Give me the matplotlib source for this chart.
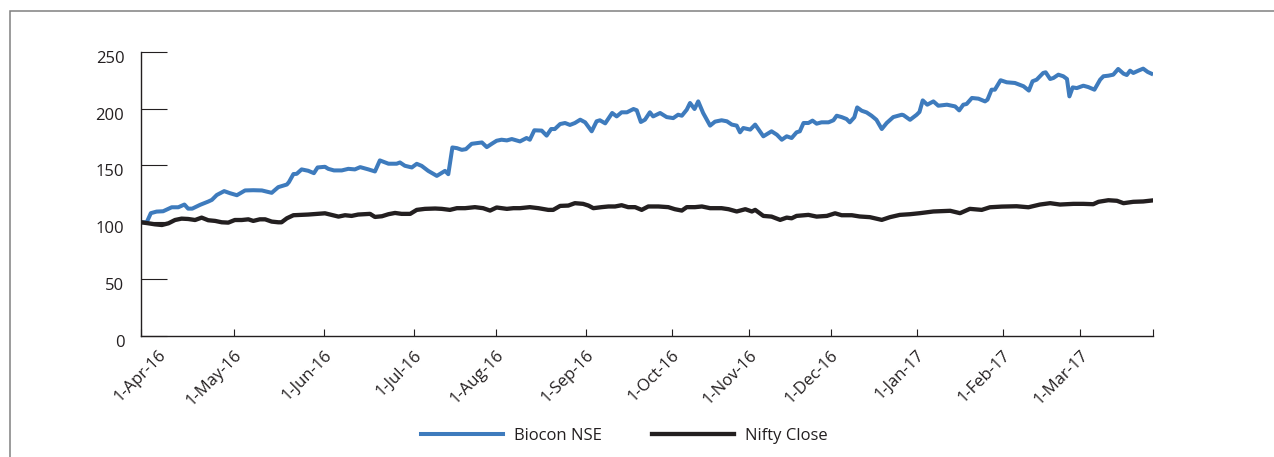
import matplotlib
matplotlib.use('Agg')
import matplotlib.pyplot as plt
from matplotlib.patches import Rectangle
from matplotlib.transforms import ScaledTranslation

# x = trading day index (0 = 1-Apr-16), values rebased to 100
biocon_day = [0, 1.4, 2.4, 3.8, 5.4, 7.5, 9.1, 10.6, 11.5, 12.5, 14.4, 16.4, 17.3, 18.5, 20.3, 21.7,
              23.4, 25.4, 27.4, 29.5, 31.9, 33.5, 35.6, 36.1, 37.2, 38, 39.2, 40.8, 42.2, 43.1, 44.9,
              45.7, 47.1, 49, 50.6, 52.2, 53.5, 55.5, 57.1, 58.3, 60.4, 62.4, 63.2, 64.4, 66.1, 67.3,
              68.5, 70.1, 72.2, 74.2, 75, 76, 77.1, 78.3, 79.3, 80.7, 81.9, 83.2, 84.4, 85.6, 86.8,
              88, 89.3, 90.5, 92.5, 94.1, 94.9, 96, 97.8, 99, 100.1, 101, 102.3, 103.5, 104.7, 105.9,
              107.2, 108.4, 110, 111.2, 112, 113.3, 115, 116.1, 117.3, 118.6, 120.2, 121, 122, 123,
              124.2, 125, 126.7, 128.3, 129.9, 131.1, 132, 133.2, 134, 135.1, 136, 137.2, 138.9,
              140.1, 141.7, 143, 144.2, 145.4, 146.2, 147, 148.7, 149.9, 151.9, 153.9, 155.2, 156.4,
              157.6, 158.8, 160, 160.8, 161.7, 162.9, 163.9, 164.9, 166.1, 167.8, 169, 169.8, 171,
              172.2, 173, 174.1, 174.8, 175.9, 177.1, 178.3, 179.5, 180.8, 182, 183.6, 185.7, 186.1,
              187.7, 189.3, 190, 190.8, 191.9, 193.4, 194.6, 196.7, 198.7, 199.7, 200.7, 201.5,
              202.8, 204.4, 206, 206.6, 207.6, 208.4, 209.8, 211.3, 213.3, 215.4, 216.7, 217.6,
              218.6, 220.2, 220.8, 221.9, 222.7, 223.9, 225.1, 226, 226.6, 227.4, 228.4, 230, 231.2,
              232.7, 234.1, 234.9, 236.1, 237.3, 238.5, 239.8, 240.6, 241.4, 242.2, 243.4, 244.6,
              245.7, 246.6]
biocon = [100, 100, 108, 109.4, 109.7, 113.2, 113.2, 115.6, 112, 112, 115.3, 118.2, 119.7, 124, 127.4,
          125.6, 123.8, 128, 128.2, 128, 125.9, 130.9, 133.2, 135.3, 142.4, 142.6, 146.5, 145.3, 143.2,
          148.2, 148.8, 147, 145.6, 145.6, 147, 146.5, 148.5, 146.5, 144.7, 154.4, 151.5, 151.5,
          152.6, 149.7, 148.2, 151.4, 149.6, 145.2, 140.8, 145.2, 142.3, 165.8, 165.2, 163.7, 164.3,
          169, 169.6, 170.2, 166.1, 169, 171.7, 172.6, 172, 173.2, 171.1, 174.1, 172.6, 180.9, 180.6,
          176.2, 182, 182, 186.4, 187.3, 185.6, 187.3, 190.2, 187.9, 180, 188.8, 189.7, 187, 196.1,
          193.1, 196.7, 196.7, 199.6, 198.5, 188.2, 190.2, 196.7, 193.1, 196.1, 192.5, 191.6, 194.6,
          193.7, 199, 204.9, 199.6, 206.3, 196.1, 185, 188.5, 189.7, 188.8, 185.9, 185, 179.1, 182.9,
          181.5, 185.9, 175.6, 180, 177, 172.6, 175.6, 174.1, 179.1, 180, 187.3, 187.3, 189.4, 186.7,
          187.9, 187.9, 189.7, 193.7, 192.5, 190.8, 187.9, 192.3, 201, 198.1, 196.6, 193.7, 190.1,
          182, 187.3, 192.5, 194.6, 194.2, 190.1, 194.5, 197, 207.2, 203.4, 206.3, 202.5, 203.4,
          201.9, 198.4, 203.4, 204, 209.3, 208.7, 206.3, 207.8, 216.6, 216.6, 224.9, 223.1, 222.5,
          219.6, 215.8, 224, 225.4, 231.3, 231.9, 226, 226.9, 229.8, 228.4, 226, 210.7, 218.6, 218,
          220.1, 218.9, 216.6, 225.4, 228.4, 228.9, 229.8, 234.8, 230.7, 229.5, 233.3, 231.3, 233.3,
          235.1, 232.2, 230.7]

nifty_day = [0, 1.8, 3.4, 5.1, 6.7, 8.3, 9.9, 11.5, 13.2, 14.8, 16.4, 18.1, 19.7, 21.3, 22.9, 24.6,
             26.2, 27.4, 29, 30.3, 31.9, 33.5, 34.3, 35.6, 37.2, 39.2, 40.8, 42.9, 44.9, 46.5, 48.2,
             49.8, 51.4, 53, 54.7, 55.9, 57.1, 58.8, 60.4, 62, 63.6, 65.7, 67.3, 69.3, 71.8, 73.4,
             75.4, 77.1, 79.1, 81.5, 83.5, 85.2, 86.8, 89.3, 90.9, 92.5, 94.9, 97, 99.4, 100.6,
             102.3, 104.3, 105.9, 107.9, 109.2, 110.4, 112.4, 114.1, 115.7, 117.3, 118.9, 120.6,
             122.2, 123.8, 126.3, 128.7, 130.3, 132, 133.2, 135.2, 136.9, 138.9, 141.7, 143.4,
             145.4, 147.5, 149.1, 149.9, 151.9, 153.9, 156, 157.6, 158.8, 160, 162.9, 164.9, 167.4,
             169.4, 171, 173.5, 175.4, 177.9, 180.8, 182.8, 185.2, 187.7, 190.1, 193.4, 197.5,
             199.9, 202.3, 205.2, 207.2, 210.1, 213.7, 216.6, 219.4, 221.9, 224.3, 227.6, 230,
             232.4, 233.7, 236.1, 238.2, 239.8, 242.2, 244.6, 246.6]
nifty = [100, 99.1, 98.2, 97.6, 99.1, 102, 103.2, 102.9, 102, 104.1, 101.8, 101.2, 100, 99.7, 102, 102,
         102.6, 101.2, 102.6, 102.6, 100.6, 100, 100, 103.5, 106.2, 106.5, 106.8, 107.4, 107.9, 106.5,
         105, 106.2, 105.6, 106.8, 107.1, 107.4, 104.7, 105.3, 107.1, 108.2, 107.4, 107.4, 110.9,
         111.8, 112.1, 111.8, 110.9, 112.4, 112.4, 113.3, 112.4, 110.3, 113, 111.8, 112.4, 112.4,
         113.3, 112.4, 110.9, 110.9, 114.4, 114.7, 116.8, 116.2, 114.7, 112.4, 113.3, 113.9, 113.9,
         115, 113.3, 113.3, 110.9, 113.9, 113.9, 113.3, 111.5, 110.3, 113.3, 113.3, 113.9, 112.4,
         112.4, 111.5, 109.5, 111.5, 109.5, 110.9, 105.6, 105, 102.1, 104.1, 103.5, 105.6, 106.5,
         105, 105.6, 107.9, 106.2, 106.2, 105.1, 104.5, 102.1, 104.5, 106.5, 107.1, 108, 109.5,
         110.1, 108, 111.8, 110.9, 113.2, 113.8, 114.1, 113.2, 115.6, 116.8, 115.6, 116.2, 116.2,
         115.9, 118, 119.4, 118.9, 116.8, 118, 118.3, 119.1]

month_day = [0, 22.7, 44.7, 66.6, 86.6, 108.5, 129.5, 148.4, 168.3, 189.3, 210.3, 229.2]
month_labels = ['1-Apr-16', '1-May-16', '1-Jun-16', '1-Jul-16', '1-Aug-16', '1-Sep-16', '1-Oct-16',
                '1-Nov-16', '1-Dec-16', '1-Jan-17', '1-Feb-17', '1-Mar-17']
last_day = 247

ink = '#231f20'
plt.rcParams['font.family'] = ['Open Sans', 'DejaVu Sans']
plt.rcParams['font.size'] = 12
plt.rcParams['text.color'] = ink

fig = plt.figure(figsize=(12.74, 4.57), dpi=100)
ax = fig.add_axes([141/1274, 1-336/457, (1153-141)/1274, (336-51.7)/457])

ax.plot(biocon_day, biocon, color='#3e7bbd', lw=2.9, label='Biocon NSE', solid_joinstyle='round')
ax.plot(nifty_day, nifty, color=ink, lw=3.1, label='Nifty Close', solid_joinstyle='round')

ax.set_xlim(0, last_day)
ax.set_ylim(0, 250)
ax.set_yticks([0, 50, 100, 150, 200, 250])
ax.set_xticks(month_day + [last_day], month_labels + [''])

for s in ['top', 'right']:
    ax.spines[s].set_visible(False)
for s in ['left', 'bottom']:
    ax.spines[s].set_color(ink)
    ax.spines[s].set_linewidth(1.0)

ax.tick_params(axis='y', direction='in', length=18.7, width=0.8, color=ink, pad=12, labelcolor=ink)
ax.tick_params(axis='x', direction='in', length=5, width=0.8, color=ink, pad=8, labelcolor=ink)
for lab in ax.get_xticklabels():
    lab.set_rotation(45)
    lab.set_ha('right')
    lab.set_va('top')
    lab.set_rotation_mode('anchor')
# first label sits further right in the original
first = ax.get_xticklabels()[0]
first.set_transform(first.get_transform() + ScaledTranslation(0.17, 0, fig.dpi_scale_trans))
# y labels sit a little below their ticks
for lab in ax.get_yticklabels():
    lab.set_transform(lab.get_transform() + ScaledTranslation(0, -0.05, fig.dpi_scale_trans))

fig.legend(loc='center', bbox_to_anchor=(624.5/1274, 1-436/457), ncol=2, frameon=False,
           handlelength=4.9, handletextpad=0.7, columnspacing=3.0, fontsize=12)

# thin grey frame around the panel
fig.patches.append(Rectangle((10/1274, -0.2), 1.5, 1.2-11/457, transform=fig.transFigure,
                             fill=False, edgecolor='#808080', lw=1.1))

fig.savefig('out.png', dpi=100)
